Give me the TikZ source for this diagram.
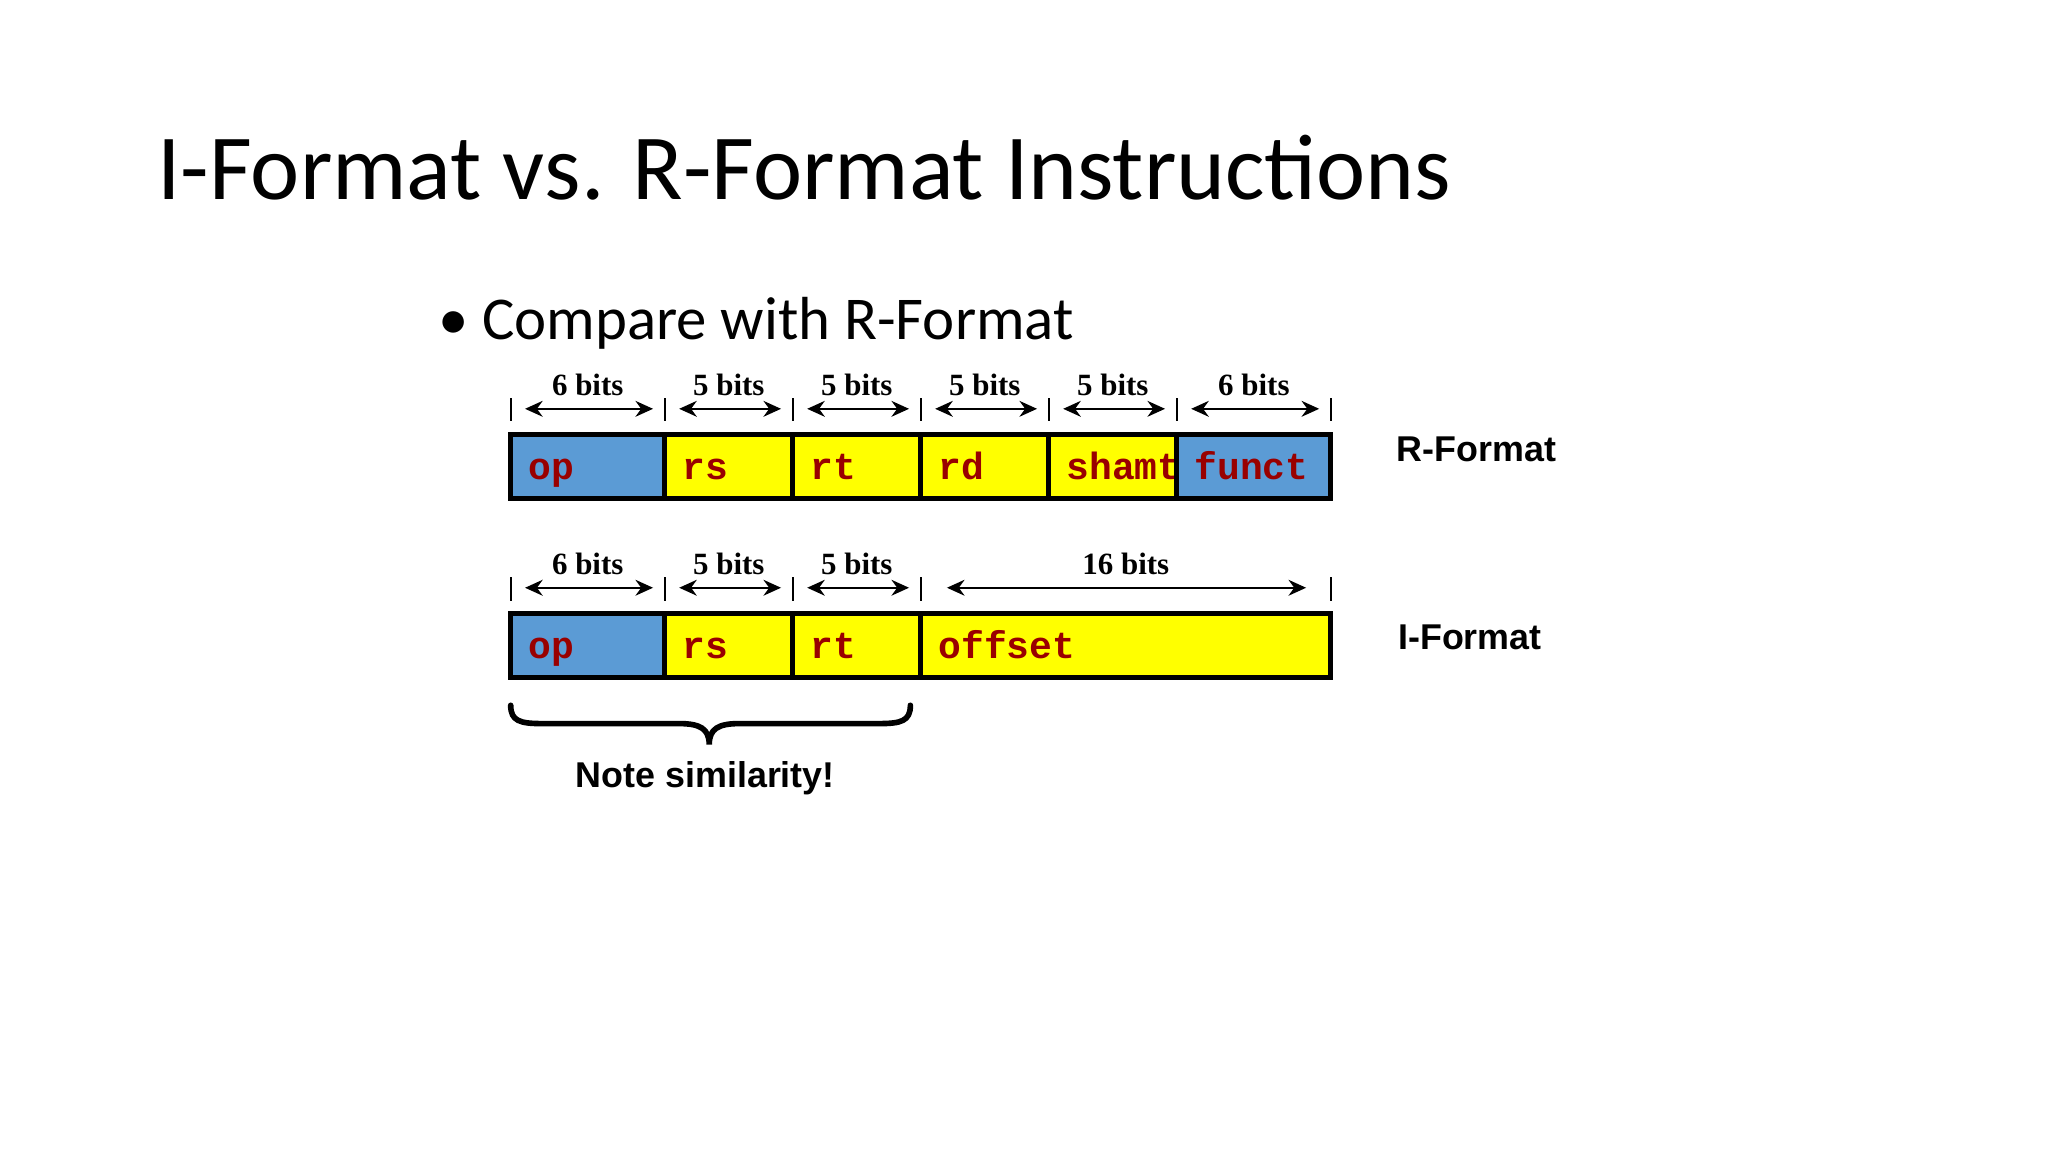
\documentclass[tikz,border=0pt]{standalone}
\usepackage{fontspec}
\setmainfont{Carlito}
\newfontfamily\arialb{Liberation Sans}[BoldFont={* Bold}]
\newfontfamily\timesb{Liberation Serif}
\newfontfamily\courb{Liberation Mono}
\usetikzlibrary{arrows.meta}
\definecolor{fblue}{RGB}{91,155,213}
\definecolor{fyel}{RGB}{255,255,0}
\definecolor{fred}{RGB}{153,0,0}
\tikzset{
  field/.style={draw=black,line width=1.4pt,minimum height=0.64cm,inner sep=0pt,outer sep=0pt,anchor=north west},
  lab/.style={font=\courb\bfseries\fontsize{10.8}{12}\selectfont,text=fred,anchor=base west,inner sep=0pt},
  bits/.style={font=\timesb\bfseries\fontsize{8.8}{10}\selectfont,inner sep=0pt},
  tick/.style={line width=0.5pt},
  dim/.style={line width=0.7pt,{Stealth[length=5pt,width=4.5pt]}-{Stealth[length=5pt,width=4.5pt]}},
  fmt/.style={font=\arialb\bfseries\fontsize{10.2}{12}\selectfont,anchor=west,inner sep=0pt}
}
\begin{document}
\begin{tikzpicture}[x=0.01306cm,y=-0.01306cm]
\useasboundingbox[fill=white] (0,0) rectangle (1568,882);
\node[anchor=base west,inner sep=0pt,font=\fontsize{26.5}{30}\selectfont] (title) at (120,153) {I-Format vs. R-Format Instructions};
\node[anchor=base west,inner sep=0pt,font=\fontsize{17.3}{21}\selectfont] (bul) at (335,260) {• Compare with R-Format};
% R format
\foreach \a/\b/\c/\t/\n in {391/509/fblue/op/r1,509/607/fyel/rs/r2,607/705/fyel/rt/r3,705/803/fyel/rd/r4,803/901/fyel/shamt/r5,901/1019/fblue/funct/r6}{
  \node[field,fill=\c,minimum width={(\b-\a)*0.01306cm}] (\n) at (\a,333) {};
  \node[lab] (\n t) at (\a+13,367) {\t};
}
\foreach \x in {391,509,607,705,803,901,1019}{
  \draw[tick] (\x,305) -- (\x,322);
}
\foreach \a/\b/\t/\n in {391/509/6/ra,509/607/5/rb,607/705/5/rc,705/803/5/rd,803/901/5/re,901/1019/6/rf}{
  \coordinate (\n1) at (\a+11,313);
  \coordinate (\n2) at (\b-9,313);
  \draw[dim] (\n1) -- (\n2);
  \node[bits] (\n l) at ({(\a+\b)/2},295) {\t{} bits};
}
% I format
\foreach \a/\b/\c/\t/\n in {391/509/fblue/op/i1,509/607/fyel/rs/i2,607/705/fyel/rt/i3,705/1019/fyel/offset/i4}{
  \node[field,fill=\c,minimum width={(\b-\a)*0.01306cm}] (\n) at (\a,470) {};
  \node[lab] (\n t) at (\a+13,504) {\t};
}
\foreach \x in {391,509,607,705,1019}{
  \draw[tick] (\x,442) -- (\x,460);
}
\foreach \a/\b/\t/\n/\p/\q in {391/509/6/ia/11/9,509/607/5/ib/11/9,607/705/5/ic/11/9,705/1019/16/id/20/19}{
  \coordinate (\n1) at (\a+\p,450);
  \coordinate (\n2) at (\b-\q,450);
  \draw[dim] (\n1) -- (\n2);
  \node[bits] (\n l) at ({(\a+\b)/2},432) {\t{} bits};
}
\node[fmt] (rf) at (1069,344) {R-Format};
\node[fmt] (if) at (1070,488) {I-Format};
% brace
\draw[line width=1.6pt,line cap=round] (391,540) .. controls (391,552) and (398,554) .. (415,554) -- (520,554) .. controls (536,554) and (543,558) .. (543,570)
  .. controls (543,558) and (550,554) .. (566,554) -- (673,554) .. controls (690,554) and (697,552) .. (697,540);
\node[font=\arialb\bfseries\fontsize{10.2}{12}\selectfont,inner sep=0pt] (note) at (540,596) {Note similarity!};
\end{tikzpicture}
\end{document}
